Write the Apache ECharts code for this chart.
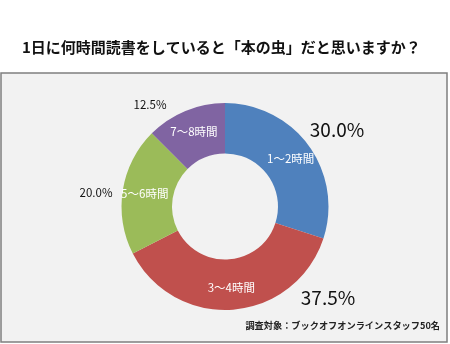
<!DOCTYPE html>
<html>
<head>
<meta charset="utf-8">
<script src="https://cdn.jsdelivr.net/npm/echarts@6/dist/echarts.min.js"></script>
<style>html,body{margin:0;padding:0;background:#fff}#c{width:450px;height:344px}</style>
</head>
<body>
<div id="c"></div>
<script>
var categories = ['1～2時間', '3～4時間', '5～6時間', '7～8時間'];
var values = [30.0, 37.5, 20.0, 12.5];
var percentLabels = ['30.0%', '37.5%', '20.0%', '12.5%'];
var titleText = '1日に何時間読書をしていると「本の虫」だと思いますか？';
var noteText = '調査対象：ブックオフオンラインスタッフ50名';

var colors = ['#4F81BD', '#C0504D', '#9BBB59', '#8064A2'];
var outerLabelPos = [[337, 130], [328, 298], [96, 193], [150, 105]];
var outerLabelSize = [19, 19, 11.5, 11.5];
var FONT = '"Noto Sans CJK JP", "Noto Sans", sans-serif';

var chart = echarts.init(document.getElementById('c'), null, {renderer: 'canvas'});
var innerData = categories.map(function (c, i) {
  return {name: c, value: values[i], itemStyle: {color: colors[i]}};
});
var outerData = categories.map(function (c, i) {
  return {name: c, value: values[i],
    label: {formatter: percentLabels[i], fontSize: outerLabelSize[i]}};
});
chart.setOption({
  backgroundColor: '#ffffff',
  animation: false,
  graphic: [
    {type: 'rect', z: -10, shape: {x: 1, y: 73, width: 446, height: 269},
     style: {fill: '#f2f2f2', stroke: '#7f7f7f', lineWidth: 1.5}},
    {type: 'text', left: 22, top: 40,
     style: {text: titleText, font: 'bold 15px ' + FONT, fill: '#111'}},
    {type: 'text', right: 10, top: 321,
     style: {text: noteText, font: 'bold 9.2px ' + FONT, fill: '#222'}}
  ],
  series: [
    {
      type: 'pie', center: [225, 206.5], radius: [53, 103.5],
      startAngle: 90, clockwise: true, silent: true,
      label: {show: true, position: 'inside', color: '#fff', fontSize: 11.5, fontFamily: FONT,
        formatter: '{b}'},
      labelLine: {show: false},
      data: innerData
    },
    {
      type: 'pie', center: [225, 206.5], radius: [53, 103.5],
      startAngle: 90, clockwise: true, silent: true, z: 5,
      itemStyle: {color: 'rgba(0,0,0,0)'},
      label: {show: true, position: 'outside', color: '#111', fontFamily: FONT},
      labelLine: {show: false},
      labelLayout: function (p) {
        var pos = outerLabelPos[p.dataIndex];
        return {x: pos[0], y: pos[1], align: 'center', verticalAlign: 'middle'};
      },
      data: outerData
    }
  ]
});
</script>
</body>
</html>
